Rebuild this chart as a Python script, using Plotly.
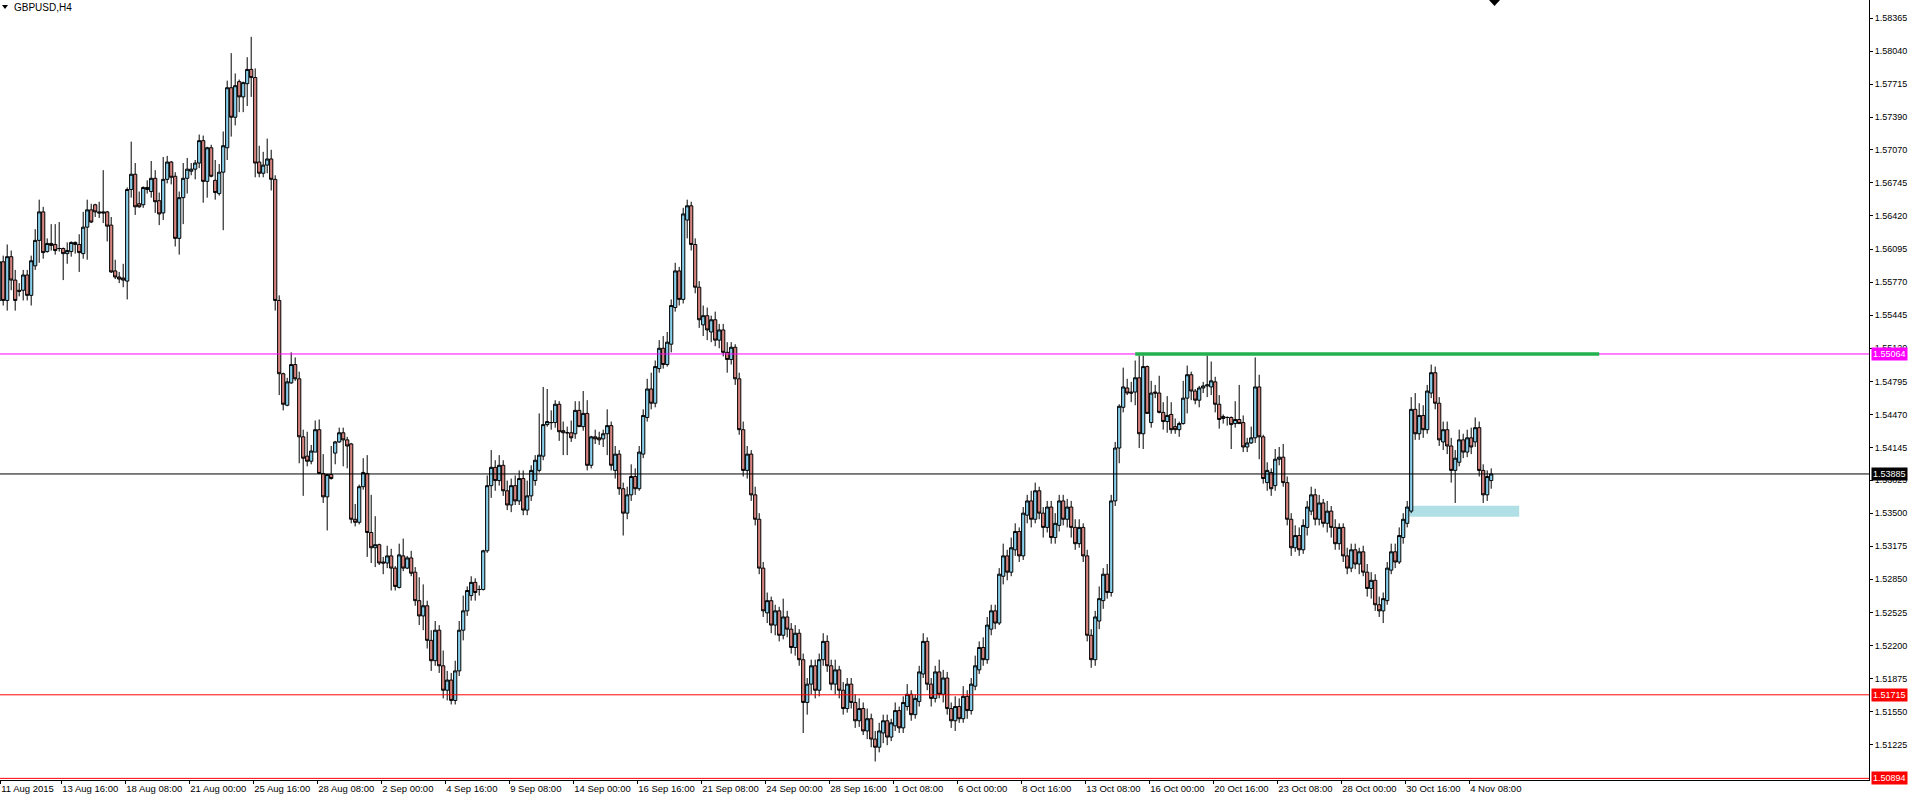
import plotly.graph_objects as go

# ---------------- data (GBPUSD H4, bar 0 = 11 Aug 2015 00:00) ----------------
bar_index = list(range(-1, 373))

open_px = [1.5559, 1.5597, 1.5559, 1.5602, 1.5579, 1.5569, 1.5569, 1.5584, 1.5564, 1.5593,
           1.5618, 1.5646, 1.5607, 1.5615, 1.5614, 1.5610, 1.5610, 1.5605, 1.5607, 1.5614,
           1.5614, 1.5605, 1.5631, 1.5648, 1.5653, 1.5646, 1.5646, 1.5646, 1.5633, 1.5588,
           1.5582, 1.5581, 1.5578, 1.5668, 1.5683, 1.5654, 1.5653, 1.5668, 1.5666, 1.5679,
           1.5657, 1.5645, 1.5678, 1.5695, 1.5681, 1.5620, 1.5660, 1.5679, 1.5686, 1.5688,
           1.5694, 1.5716, 1.5676, 1.5709, 1.5677, 1.5664, 1.5685, 1.5709, 1.5768, 1.5739,
           1.5774, 1.5759, 1.5772, 1.5786, 1.5778, 1.5695, 1.5684, 1.5692, 1.5698, 1.5678,
           1.5559, 1.5487, 1.5456, 1.5478, 1.5496, 1.5482, 1.5425, 1.5406, 1.5401, 1.5410,
           1.5432, 1.5389, 1.5366, 1.5388, 1.5409, 1.5420, 1.5429, 1.5422, 1.5418, 1.5344,
           1.5341, 1.5376, 1.5389, 1.5331, 1.5316, 1.5319, 1.5302, 1.5301, 1.5308, 1.5296,
           1.5277, 1.5308, 1.5296, 1.5306, 1.5292, 1.5264, 1.5249, 1.5259, 1.5225, 1.5205,
           1.5235, 1.5200, 1.5176, 1.5186, 1.5166, 1.5195, 1.5235, 1.5254, 1.5269, 1.5282,
           1.5275, 1.5275, 1.5313, 1.5377, 1.5395, 1.5382, 1.5397, 1.5372, 1.5358, 1.5377,
           1.5362, 1.5384, 1.5353, 1.5367, 1.5382, 1.5392, 1.5406, 1.5437, 1.5439, 1.5439,
           1.5457, 1.5431, 1.5429, 1.5429, 1.5428, 1.5451, 1.5435, 1.5448, 1.5397, 1.5425,
           1.5424, 1.5423, 1.5428, 1.5436,
           1.5392, 1.5408, 1.5374, 1.5350, 1.5368, 1.5386, 1.5374, 1.5408, 1.5444, 1.5472,
           1.5458, 1.5492, 1.5512, 1.5496, 1.5516, 1.5552, 1.5588, 1.5560, 1.5638, 1.5652,
           1.5614, 1.5572, 1.5535, 1.5544, 1.5528, 1.5540, 1.5520, 1.5530, 1.5508, 1.5501,
           1.5513, 1.5482, 1.5432, 1.5392, 1.5408, 1.5368, 1.5344, 1.5296, 1.5252, 1.5264,
           1.5240, 1.5254, 1.5230, 1.5248, 1.5236, 1.5218, 1.5232, 1.5206, 1.5164, 1.5182,
           1.5200, 1.5176, 1.5206, 1.5224, 1.5200, 1.5182, 1.5196, 1.5176, 1.5158, 1.5182,
           1.5164, 1.5146, 1.5158, 1.5136, 1.5148, 1.5128, 1.5120, 1.5134, 1.5146, 1.5130,
           1.5141, 1.5156, 1.5139, 1.5160, 1.5172, 1.5152, 1.5165, 1.5192, 1.5224, 1.5182,
           1.5168, 1.5194, 1.5172, 1.5188, 1.5158, 1.5146, 1.5160, 1.5148, 1.5170, 1.5156,
           1.5180, 1.5196, 1.5218, 1.5206, 1.5236, 1.5254, 1.5242, 1.5288, 1.5308, 1.5292,
           1.5314, 1.5332, 1.5308, 1.5348, 1.5362, 1.5344, 1.5372, 1.5350, 1.5336, 1.5356,
           1.5326, 1.5338, 1.5362, 1.5344, 1.5356, 1.5336, 1.5320, 1.5336, 1.5308, 1.5230,
           1.5206, 1.5244, 1.5264, 1.5290, 1.5272, 1.5362, 1.5414, 1.5454, 1.5473, 1.5469,
           1.5469, 1.5483, 1.5428, 1.5494, 1.5439, 1.5469, 1.5468, 1.5449, 1.5440, 1.5447,
           1.5435, 1.5432, 1.5438, 1.5463, 1.5486, 1.5470, 1.5461, 1.5473, 1.5475, 1.5474,
           1.5479, 1.5457, 1.5443, 1.5444, 1.5444, 1.5438, 1.5442, 1.5439, 1.5415, 1.5419,
           1.5424, 1.5474, 1.5425, 1.5380, 1.5390, 1.5377, 1.5403, 1.5405, 1.5380, 1.5344,
           1.5316, 1.5328, 1.5314, 1.5336, 1.5352, 1.5368, 1.5344, 1.5360, 1.5340, 1.5352,
           1.5336, 1.5320, 1.5336, 1.5308, 1.5296, 1.5314, 1.5300, 1.5312, 1.5292, 1.5276,
           1.5284, 1.5260, 1.5254, 1.5264, 1.5294, 1.5312, 1.5302, 1.5326, 1.5340, 1.5352,
           1.5452, 1.5428, 1.5446, 1.5432, 1.5468, 1.5488, 1.5458, 1.5420, 1.5432, 1.5416,
           1.5392, 1.5400, 1.5422, 1.5410, 1.5424, 1.5420, 1.5434, 1.5392, 1.5368, 1.5382]

high_px = [1.5603, 1.5603, 1.5614, 1.5608, 1.5589, 1.5576, 1.5589, 1.5589, 1.5603, 1.5629,
           1.5658, 1.5651, 1.5620, 1.5634, 1.5634, 1.5636, 1.5611, 1.5616, 1.5617, 1.5617,
           1.5624, 1.5646, 1.5658, 1.5654, 1.5654, 1.5656, 1.5687, 1.5647, 1.5641, 1.5599,
           1.5587, 1.5595, 1.5670, 1.5715, 1.5694, 1.5666, 1.5671, 1.5677, 1.5696, 1.5687,
           1.5665, 1.5700, 1.5701, 1.5696, 1.5685, 1.5666, 1.5694, 1.5699, 1.5694, 1.5697,
           1.5722, 1.5721, 1.5710, 1.5712, 1.5697, 1.5693, 1.5725, 1.5775, 1.5802, 1.5782,
           1.5776, 1.5774, 1.5798, 1.5818, 1.5787, 1.5711, 1.5705, 1.5718, 1.5707, 1.5682,
           1.5564, 1.5488, 1.5483, 1.5508, 1.5503, 1.5489, 1.5432, 1.5430, 1.5417, 1.5441,
           1.5442, 1.5408, 1.5388, 1.5416, 1.5421, 1.5434, 1.5434, 1.5425, 1.5419, 1.5359,
           1.5378, 1.5404, 1.5407, 1.5368, 1.5347, 1.5320, 1.5307, 1.5318, 1.5315, 1.5298,
           1.5320, 1.5325, 1.5308, 1.5313, 1.5297, 1.5287, 1.5280, 1.5264, 1.5235, 1.5244,
           1.5240, 1.5215, 1.5195, 1.5193, 1.5205, 1.5244, 1.5269, 1.5278, 1.5288, 1.5286,
           1.5279, 1.5314, 1.5387, 1.5412, 1.5402, 1.5407, 1.5402, 1.5382, 1.5384, 1.5387,
           1.5392, 1.5392, 1.5382, 1.5397, 1.5407, 1.5448, 1.5474, 1.5472, 1.5451, 1.5461,
           1.5460, 1.5440, 1.5435, 1.5441, 1.5460, 1.5460, 1.5470, 1.5461, 1.5426, 1.5432,
           1.5430, 1.5432, 1.5452, 1.5440,
           1.5416, 1.5412, 1.5380, 1.5376, 1.5398, 1.5394, 1.5416, 1.5452, 1.5482, 1.5488,
           1.5500, 1.5520, 1.5524, 1.5528, 1.5560, 1.5596, 1.5592, 1.5650, 1.5658, 1.5656,
           1.5620, 1.5578, 1.5554, 1.5552, 1.5544, 1.5548, 1.5536, 1.5536, 1.5518, 1.5518,
           1.5516, 1.5488, 1.5440, 1.5416, 1.5412, 1.5376, 1.5350, 1.5302, 1.5272, 1.5268,
           1.5260, 1.5258, 1.5266, 1.5254, 1.5242, 1.5240, 1.5236, 1.5212, 1.5188, 1.5206,
           1.5206, 1.5212, 1.5232, 1.5230, 1.5206, 1.5206, 1.5200, 1.5184, 1.5188, 1.5188,
           1.5172, 1.5168, 1.5164, 1.5158, 1.5153, 1.5136, 1.5144, 1.5152, 1.5152, 1.5148,
           1.5164, 1.5160, 1.5170, 1.5182, 1.5176, 1.5172, 1.5200, 1.5232, 1.5228, 1.5188,
           1.5200, 1.5206, 1.5196, 1.5194, 1.5164, 1.5170, 1.5168, 1.5180, 1.5176, 1.5188,
           1.5210, 1.5224, 1.5228, 1.5248, 1.5260, 1.5260, 1.5296, 1.5320, 1.5314, 1.5326,
           1.5340, 1.5336, 1.5356, 1.5368, 1.5372, 1.5380, 1.5376, 1.5356, 1.5362, 1.5362,
           1.5350, 1.5368, 1.5368, 1.5364, 1.5362, 1.5344, 1.5344, 1.5340, 1.5314, 1.5236,
           1.5254, 1.5278, 1.5296, 1.5300, 1.5368, 1.5420, 1.5457, 1.5493, 1.5482, 1.5479,
           1.5500, 1.5505, 1.5505, 1.5495, 1.5480, 1.5476, 1.5485, 1.5459, 1.5465, 1.5459,
           1.5443, 1.5440, 1.5480, 1.5495, 1.5489, 1.5472, 1.5475, 1.5479, 1.5505, 1.5499,
           1.5484, 1.5466, 1.5447, 1.5445, 1.5445, 1.5460, 1.5476, 1.5446, 1.5424, 1.5435,
           1.5503, 1.5486, 1.5427, 1.5400, 1.5394, 1.5413, 1.5415, 1.5418, 1.5386, 1.5350,
           1.5338, 1.5336, 1.5344, 1.5362, 1.5376, 1.5374, 1.5368, 1.5364, 1.5362, 1.5357,
           1.5344, 1.5340, 1.5340, 1.5316, 1.5320, 1.5320, 1.5316, 1.5318, 1.5300, 1.5292,
           1.5290, 1.5268, 1.5272, 1.5302, 1.5320, 1.5320, 1.5336, 1.5350, 1.5362, 1.5464,
           1.5468, 1.5458, 1.5456, 1.5476, 1.5496, 1.5494, 1.5464, 1.5440, 1.5440, 1.5424,
           1.5412, 1.5432, 1.5428, 1.5432, 1.5434, 1.5444, 1.5440, 1.5398, 1.5392, 1.5394]

low_px = [1.5549, 1.5554, 1.5549, 1.5569, 1.5549, 1.5563, 1.5559, 1.5559, 1.5554, 1.5589,
          1.5596, 1.5600, 1.5606, 1.5608, 1.5604, 1.5607, 1.5579, 1.5595, 1.5602, 1.5605,
          1.5587, 1.5600, 1.5599, 1.5635, 1.5641, 1.5640, 1.5635, 1.5617, 1.5586, 1.5580,
          1.5576, 1.5572, 1.5560, 1.5660, 1.5643, 1.5650, 1.5650, 1.5664, 1.5660, 1.5645,
          1.5633, 1.5638, 1.5674, 1.5673, 1.5612, 1.5604, 1.5634, 1.5664, 1.5682, 1.5678,
          1.5689, 1.5655, 1.5660, 1.5680, 1.5658, 1.5662, 1.5628, 1.5697, 1.5720, 1.5731,
          1.5744, 1.5744, 1.5750, 1.5759, 1.5680, 1.5680, 1.5680, 1.5684, 1.5667, 1.5549,
          1.5466, 1.5451, 1.5455, 1.5477, 1.5480, 1.5399, 1.5367, 1.5396, 1.5398, 1.5410,
          1.5389, 1.5360, 1.5333, 1.5383, 1.5398, 1.5419, 1.5396, 1.5394, 1.5340, 1.5337,
          1.5339, 1.5373, 1.5307, 1.5301, 1.5297, 1.5299, 1.5290, 1.5296, 1.5274, 1.5274,
          1.5276, 1.5293, 1.5295, 1.5288, 1.5259, 1.5240, 1.5235, 1.5217, 1.5195, 1.5200,
          1.5193, 1.5168, 1.5166, 1.5162, 1.5162, 1.5190, 1.5225, 1.5249, 1.5264, 1.5264,
          1.5269, 1.5274, 1.5311, 1.5365, 1.5372, 1.5377, 1.5367, 1.5353, 1.5351, 1.5358,
          1.5358, 1.5348, 1.5348, 1.5362, 1.5377, 1.5390, 1.5402, 1.5435, 1.5432, 1.5434,
          1.5421, 1.5407, 1.5407, 1.5420, 1.5423, 1.5436, 1.5431, 1.5392, 1.5394, 1.5418,
          1.5417, 1.5415, 1.5407, 1.5392,
          1.5384, 1.5368, 1.5328, 1.5344, 1.5362, 1.5368, 1.5372, 1.5404, 1.5440, 1.5452,
          1.5454, 1.5488, 1.5492, 1.5494, 1.5508, 1.5548, 1.5554, 1.5556, 1.5620, 1.5608,
          1.5566, 1.5532, 1.5524, 1.5520, 1.5518, 1.5514, 1.5512, 1.5504, 1.5488, 1.5496,
          1.5476, 1.5427, 1.5386, 1.5384, 1.5362, 1.5338, 1.5290, 1.5248, 1.5242, 1.5232,
          1.5230, 1.5224, 1.5226, 1.5228, 1.5212, 1.5210, 1.5200, 1.5134, 1.5152, 1.5172,
          1.5168, 1.5170, 1.5200, 1.5194, 1.5176, 1.5172, 1.5168, 1.5152, 1.5154, 1.5158,
          1.5139, 1.5140, 1.5132, 1.5128, 1.5120, 1.5106, 1.5115, 1.5124, 1.5122, 1.5126,
          1.5136, 1.5134, 1.5134, 1.5156, 1.5146, 1.5148, 1.5160, 1.5188, 1.5176, 1.5160,
          1.5164, 1.5168, 1.5164, 1.5152, 1.5139, 1.5136, 1.5144, 1.5144, 1.5148, 1.5152,
          1.5176, 1.5192, 1.5200, 1.5202, 1.5230, 1.5236, 1.5240, 1.5280, 1.5284, 1.5288,
          1.5308, 1.5302, 1.5304, 1.5340, 1.5336, 1.5340, 1.5344, 1.5326, 1.5331, 1.5320,
          1.5320, 1.5332, 1.5338, 1.5336, 1.5326, 1.5314, 1.5316, 1.5302, 1.5224, 1.5198,
          1.5200, 1.5236, 1.5256, 1.5266, 1.5268, 1.5357, 1.5399, 1.5449, 1.5466, 1.5459,
          1.5456, 1.5414, 1.5413, 1.5448, 1.5434, 1.5463, 1.5448, 1.5432, 1.5429, 1.5428,
          1.5428, 1.5425, 1.5437, 1.5448, 1.5461, 1.5457, 1.5454, 1.5468, 1.5464, 1.5466,
          1.5449, 1.5433, 1.5438, 1.5436, 1.5413, 1.5434, 1.5438, 1.5410, 1.5410, 1.5418,
          1.5419, 1.5403, 1.5379, 1.5372, 1.5367, 1.5372, 1.5397, 1.5376, 1.5338, 1.5308,
          1.5312, 1.5308, 1.5310, 1.5328, 1.5348, 1.5338, 1.5338, 1.5336, 1.5331, 1.5326,
          1.5314, 1.5314, 1.5302, 1.5290, 1.5292, 1.5295, 1.5290, 1.5288, 1.5268, 1.5266,
          1.5254, 1.5248, 1.5242, 1.5260, 1.5290, 1.5296, 1.5300, 1.5320, 1.5336, 1.5350,
          1.5422, 1.5422, 1.5424, 1.5428, 1.5463, 1.5452, 1.5416, 1.5412, 1.5408, 1.5380,
          1.5360, 1.5396, 1.5404, 1.5405, 1.5408, 1.5415, 1.5386, 1.5360, 1.5362, 1.5374]

close_px = [1.5597, 1.5559, 1.5602, 1.5579, 1.5559, 1.5568, 1.5584, 1.5564, 1.5598, 1.5618,
            1.5646, 1.5606, 1.5615, 1.5613, 1.5608, 1.5610, 1.5605, 1.5608, 1.5616, 1.5616,
            1.5606, 1.5631, 1.5648, 1.5636, 1.5646, 1.5645, 1.5645, 1.5632, 1.5587, 1.5582,
            1.5580, 1.5579, 1.5668, 1.5683, 1.5651, 1.5651, 1.5670, 1.5670, 1.5679, 1.5656,
            1.5644, 1.5678, 1.5695, 1.5680, 1.5620, 1.5660, 1.5679, 1.5688, 1.5688, 1.5694,
            1.5716, 1.5676, 1.5709, 1.5681, 1.5665, 1.5685, 1.5711, 1.5768, 1.5739, 1.5770,
            1.5759, 1.5773, 1.5786, 1.5778, 1.5694, 1.5684, 1.5692, 1.5698, 1.5678, 1.5559,
            1.5487, 1.5457, 1.5479, 1.5496, 1.5482, 1.5425, 1.5404, 1.5401, 1.5411, 1.5432,
            1.5389, 1.5366, 1.5388, 1.5384, 1.5420, 1.5429, 1.5422, 1.5416, 1.5344, 1.5341,
            1.5376, 1.5390, 1.5331, 1.5316, 1.5319, 1.5301, 1.5301, 1.5308, 1.5296, 1.5278,
            1.5309, 1.5296, 1.5306, 1.5291, 1.5264, 1.5249, 1.5259, 1.5225, 1.5205, 1.5235,
            1.5200, 1.5176, 1.5186, 1.5166, 1.5195, 1.5235, 1.5254, 1.5274, 1.5282, 1.5272,
            1.5275, 1.5313, 1.5377, 1.5395, 1.5382, 1.5397, 1.5372, 1.5358, 1.5377, 1.5362,
            1.5384, 1.5353, 1.5367, 1.5392, 1.5402, 1.5407, 1.5437, 1.5440, 1.5439, 1.5457,
            1.5430, 1.5429, 1.5429, 1.5424, 1.5451, 1.5435, 1.5448, 1.5397, 1.5425, 1.5423,
            1.5422, 1.5428, 1.5436, 1.5397,
            1.5408, 1.5374, 1.5350, 1.5368, 1.5386, 1.5374, 1.5410, 1.5446, 1.5472, 1.5458,
            1.5494, 1.5512, 1.5496, 1.5518, 1.5554, 1.5588, 1.5560, 1.5644, 1.5652, 1.5614,
            1.5572, 1.5540, 1.5544, 1.5530, 1.5540, 1.5520, 1.5530, 1.5508, 1.5501, 1.5513,
            1.5482, 1.5432, 1.5392, 1.5408, 1.5368, 1.5344, 1.5296, 1.5254, 1.5264, 1.5240,
            1.5254, 1.5230, 1.5248, 1.5236, 1.5218, 1.5232, 1.5206, 1.5164, 1.5182, 1.5200,
            1.5176, 1.5206, 1.5224, 1.5200, 1.5182, 1.5196, 1.5176, 1.5158, 1.5182, 1.5164,
            1.5146, 1.5158, 1.5136, 1.5148, 1.5128, 1.5120, 1.5136, 1.5146, 1.5130, 1.5144,
            1.5156, 1.5139, 1.5164, 1.5172, 1.5152, 1.5168, 1.5194, 1.5224, 1.5182, 1.5168,
            1.5194, 1.5172, 1.5188, 1.5158, 1.5146, 1.5160, 1.5148, 1.5170, 1.5156, 1.5182,
            1.5200, 1.5218, 1.5206, 1.5240, 1.5254, 1.5242, 1.5290, 1.5308, 1.5292, 1.5316,
            1.5332, 1.5308, 1.5350, 1.5362, 1.5344, 1.5372, 1.5350, 1.5336, 1.5356, 1.5326,
            1.5340, 1.5362, 1.5344, 1.5356, 1.5336, 1.5320, 1.5336, 1.5308, 1.5230, 1.5206,
            1.5248, 1.5266, 1.5290, 1.5272, 1.5362, 1.5414, 1.5455, 1.5474, 1.5468, 1.5468,
            1.5483, 1.5428, 1.5494, 1.5448, 1.5468, 1.5468, 1.5449, 1.5440, 1.5446, 1.5432,
            1.5432, 1.5438, 1.5463, 1.5486, 1.5470, 1.5461, 1.5473, 1.5475, 1.5476, 1.5480,
            1.5457, 1.5442, 1.5445, 1.5444, 1.5437, 1.5442, 1.5438, 1.5415, 1.5419, 1.5424,
            1.5474, 1.5425, 1.5384, 1.5392, 1.5374, 1.5403, 1.5405, 1.5380, 1.5344, 1.5316,
            1.5328, 1.5314, 1.5338, 1.5356, 1.5368, 1.5344, 1.5360, 1.5340, 1.5352, 1.5336,
            1.5320, 1.5336, 1.5308, 1.5296, 1.5314, 1.5300, 1.5312, 1.5292, 1.5276, 1.5284,
            1.5260, 1.5254, 1.5266, 1.5296, 1.5312, 1.5302, 1.5328, 1.5344, 1.5356, 1.5452,
            1.5428, 1.5446, 1.5432, 1.5470, 1.5488, 1.5458, 1.5422, 1.5432, 1.5416, 1.5392,
            1.5404, 1.5422, 1.5410, 1.5424, 1.5415, 1.5434, 1.5392, 1.5368, 1.5386, 1.53885]

time_tick_bars = [0, 16, 32, 48, 64, 80, 96, 112, 128, 144, 160, 176, 192, 208, 224,
                  240, 256, 272, 288, 304, 320, 336, 352, 368]
time_tick_labels = ["11 Aug 2015", "13 Aug 16:00", "18 Aug 08:00", "21 Aug 00:00",
                    "25 Aug 16:00", "28 Aug 08:00", "2 Sep 00:00", "4 Sep 16:00",
                    "9 Sep 08:00", "14 Sep 00:00", "16 Sep 16:00", "21 Sep 08:00",
                    "24 Sep 00:00", "28 Sep 16:00", "1 Oct 08:00", "6 Oct 00:00",
                    "8 Oct 16:00", "13 Oct 08:00", "16 Oct 00:00", "20 Oct 16:00",
                    "23 Oct 08:00", "28 Oct 00:00", "30 Oct 16:00", "4 Nov 08:00"]

price_ticks = [1.58365, 1.58040, 1.57715, 1.57390, 1.57070, 1.56745, 1.56420, 1.56095,
               1.55770, 1.55445, 1.55120, 1.54795, 1.54470, 1.54145, 1.53825, 1.53500,
               1.53175, 1.52850, 1.52525, 1.52200, 1.51875, 1.51550, 1.51225]

level_resistance = 1.55064
level_current = 1.53885
level_support = 1.51715
level_bottom = 1.50894
green_line_bars = [283, 399]
zone_bars = [351.5, 379]
zone_prices = [1.53465, 1.53573]

# ---------------- layout constants ----------------
W, H = 1912, 797
PLOT_W, PLOT_H = 1869, 780
PX_PER_BAR = 4.0
x_start = -0.8
x_range = [x_start, x_start + PLOT_W / PX_PER_BAR]
y_range = [1.50878, 1.58542]
TICK_SHIFT = -1.5  # MT4 draws the time tick slightly left of the bar

FONT = "Liberation Sans"
BULL = "#87ceeb"
BEAR = "#d4837e"

fig = go.Figure()
fig.add_trace(go.Candlestick(
    x=bar_index, open=open_px, high=high_px, low=low_px, close=close_px,
    increasing=dict(fillcolor=BULL, line=dict(color="black", width=1)),
    decreasing=dict(fillcolor=BEAR, line=dict(color="black", width=1)),
    whiskerwidth=0, showlegend=False, hoverinfo="skip",
))

shapes = []
def hline(y, color, width=1):
    shapes.append(dict(type="line", xref="paper", x0=0, x1=1, yref="y", y0=y, y1=y,
                       line=dict(color=color, width=width), layer="above"))

hline(level_resistance, "#ff00ff")
hline(level_current, "black")
hline(level_support, "#ff0000")
hline(level_bottom, "#ff0000")

shapes.append(dict(type="line", xref="x", yref="y", x0=green_line_bars[0], x1=green_line_bars[1],
                   y0=level_resistance, y1=level_resistance,
                   line=dict(color="#22b14c", width=3.5), layer="above"))
shapes.append(dict(type="rect", xref="x", yref="y", x0=zone_bars[0], x1=zone_bars[1],
                   y0=zone_prices[0], y1=zone_prices[1],
                   fillcolor="#b0e0e6", line=dict(width=0), layer="below"))

def px_to_paper_x(px):
    return px / PLOT_W

def px_to_paper_y(py):
    return 1 - py / PLOT_H

# small triangle before title
shapes.append(dict(type="path", xref="paper", yref="paper",
                   path="M {:.5f},{:.5f} L {:.5f},{:.5f} L {:.5f},{:.5f} Z".format(
                       px_to_paper_x(2), px_to_paper_y(5), px_to_paper_x(8), px_to_paper_y(5),
                       px_to_paper_x(5), px_to_paper_y(9)),
                   fillcolor="black", line=dict(color="black", width=0)))
# chart-shift marker at top
shapes.append(dict(type="path", xref="paper", yref="paper",
                   path="M {:.5f},{:.5f} L {:.5f},{:.5f} L {:.5f},{:.5f} Z".format(
                       px_to_paper_x(1489), px_to_paper_y(0), px_to_paper_x(1500), px_to_paper_y(0),
                       px_to_paper_x(1494.5), px_to_paper_y(6)),
                   fillcolor="black", line=dict(color="black", width=0)))

annotations = [dict(text="GBPUSD,H4", xref="paper", yref="paper", x=px_to_paper_x(12),
                    y=px_to_paper_y(8), xanchor="left", yanchor="middle", showarrow=False,
                    font=dict(family=FONT, size=10, color="black"))]

def price_box(y, bg, fg="white"):
    annotations.append(dict(text=f"{y:.5f}", xref="paper", yref="y", x=1, y=y,
                            xanchor="left", yanchor="middle", xshift=2, showarrow=False,
                            bgcolor=bg, borderpad=1, font=dict(family=FONT, size=9, color=fg)))

price_box(level_resistance, "#ff00ff")
price_box(level_current, "black")
price_box(level_support, "#ff0000")
price_box(level_bottom, "#ff0000")

tick_positions = [max(b + TICK_SHIFT, x_start + 0.05) for b in time_tick_bars]

fig.update_layout(
    width=W, height=H,
    margin=dict(l=0, r=W - PLOT_W, t=0, b=H - PLOT_H, pad=0),
    paper_bgcolor="white", plot_bgcolor="white",
    shapes=shapes, annotations=annotations,
    xaxis=dict(range=x_range, showgrid=False, zeroline=False, rangeslider=dict(visible=False),
               tickmode="array", tickvals=tick_positions, ticktext=time_tick_labels,
               ticks="outside", ticklen=3, tickcolor="black", ticklabelposition="outside right",
               tickangle=0, showline=True, linecolor="black", linewidth=1,
               tickfont=dict(family=FONT, size=9.5, color="black")),
    yaxis=dict(range=y_range, side="right", showgrid=False, zeroline=False,
               tickmode="array", tickvals=price_ticks, ticktext=[f"{v:.5f}" for v in price_ticks],
               ticks="outside", ticklen=3, tickcolor="black",
               showline=True, linecolor="black", linewidth=1,
               tickfont=dict(family=FONT, size=9, color="black")),
    boxgap=0.2, boxgroupgap=0,
)

fig.write_html("out.html", config={"displayModeBar": False},
               post_script="document.body.style.margin='0';document.body.style.overflow='hidden';")
